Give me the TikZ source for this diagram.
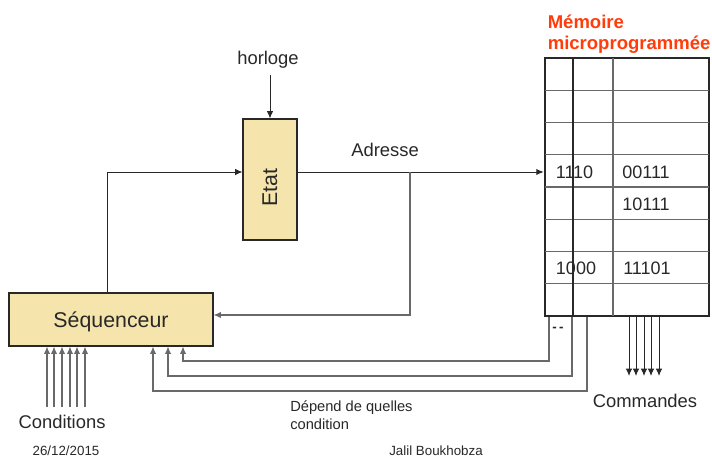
\documentclass[tikz,border=0pt]{standalone}
\usepackage{fontspec}
\setmainfont{Liberation Sans}
\usetikzlibrary{positioning, arrows.meta}
\definecolor{boxfill}{RGB}{245,229,172}
\definecolor{titlered}{RGB}{255,60,10}
\definecolor{wire}{RGB}{105,105,105}
\definecolor{ink}{RGB}{40,40,40}

\tikzset{
  box/.style={draw=ink, line width=0.8pt, fill=boxfill, inner sep=0pt},
  arr/.style={-{Latex[length=5.5pt,width=4.8pt]}, line width=0.7pt, draw=ink},
  warr/.style={-{Latex[length=5.5pt,width=4.8pt]}, line width=0.8pt, draw=wire},
  lbl/.style={font=\fontsize{13.8}{16}\selectfont, text=ink, inner sep=0pt},
  val/.style={font=\fontsize{13.5}{16}\selectfont, text=ink, inner sep=0pt},
  small/.style={font=\fontsize{11}{13.5}\selectfont, text=ink, inner sep=0pt, align=left}
}

\begin{document}
\begin{tikzpicture}[x=0.75pt, y=-0.75pt]
  \useasboundingbox (0,0) rectangle (712,459);

  % Boxes
  \node[box, minimum width=153pt, minimum height=39.75pt] (seq) at (111,319.5) {};
  \node[font=\fontsize{16}{18}\selectfont, text=ink] (seqtxt) at (111,322) {S\'equenceur};
  \node[box, minimum width=40.5pt, minimum height=90.75pt] (etat) at (270,179.5) {};
  \node[font=\fontsize{16}{18}\selectfont, text=ink, rotate=90] (etattxt) at (270,188) {Etat};
  \node[draw=ink, line width=2pt, minimum width=123pt, minimum height=193.5pt, inner sep=0pt]
    (mem) at (627,187) {};

  % Memory rows and columns
  \foreach \k in {1,...,7}
    \draw[wire, line width=1pt] (545,58+32.25*\k) -- (709,58+32.25*\k);
  \draw[wire, line width=1pt] (613,58) -- (613,316);
  \draw[ink, line width=1.6pt] (573,58) -- (573,316);

  % Labels
  \node[lbl] (horloge) at (268,60) {horloge};
  \node[lbl] (adresse) at (385,150) {Adresse};
  \node[lbl] (cond) at (62,422) {Conditions};
  \node[lbl] (cmd) at (645,401) {Commandes};
  \node[font=\bfseries\fontsize{13.9}{16}\selectfont, text=titlered, anchor=west, inner sep=0pt]
    (titre1) at (547.5,22) {M\'emoire};
  \node[font=\bfseries\fontsize{13.9}{16}\selectfont, text=titlered, anchor=west, inner sep=0pt]
    (titre2) at (547.5,45) {microprogramm\'ee};
  \node[small, anchor=west] (depend) at (290,415.5) {D\'epend de quelles\\condition};
  \node[font=\fontsize{10}{12}\selectfont, text=ink] (date) at (66,451) {26/12/2015};
  \node[font=\fontsize{10}{12}\selectfont, text=ink] (auteur) at (436,451) {Jalil Boukhobza};

  % Memory contents
  \node[val] (a1) at (574.5,172) {1110};
  \node[val] (c1) at (646,172) {00111};
  \node[val] (c2) at (646,204) {10111};
  \node[val] (a2) at (576,268) {1000};
  \node[val] (c3) at (647,268) {11101};
  \node[text=ink, inner sep=0pt] (tiret) at (558,329) {\textbf{-\,-}};

  % Address path
  \coordinate (adr) at (410,172);
  \coordinate (up) at (107,172);
  \coordinate (fb) at (410,315);
  \draw[arr] (etat.north |- horloge.south) ++(0,6) -- (etat.north);
  \draw[arr] (etat.east |- adr) -- (mem.west |- adr);
  \draw[arr] (seq.north -| up) -- (up) -- (etat.west |- up);
  \draw[warr] (adr) -- (fb) -- (seq.east |- fb);

  % Conditions
  \foreach \x in {47,54,62,70,77,85}
    \draw[warr] (\x,407) -- (seq.south -| \x,0);

  % Feedback from memory
  \draw[warr] (mem.south -| 549,0) -- (549,361) -- (183,361) -- (seq.south -| 183,0);
  \draw[warr] (mem.south -| 572,0) -- (572,376) -- (168,376) -- (seq.south -| 168,0);
  \draw[warr] (mem.south -| 587,0) -- (587,391) -- (153,391) -- (seq.south -| 153,0);

  % Commandes
  \foreach \x in {629,636,644,651,659}
    \draw[arr] (mem.south -| \x,0) -- (\x,376);
\end{tikzpicture}
\end{document}
